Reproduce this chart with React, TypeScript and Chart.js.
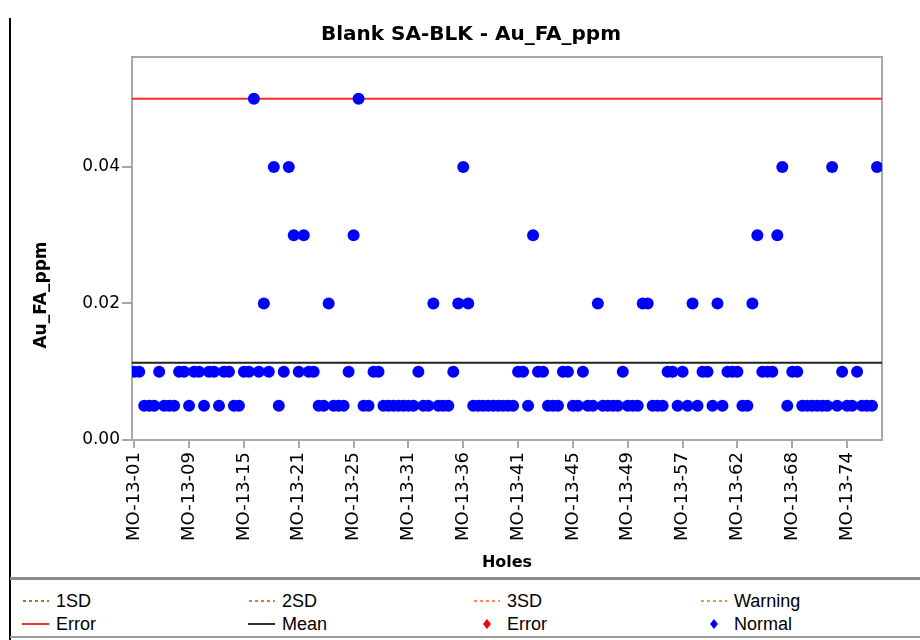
import React, { useEffect, useRef } from "react";
import { Chart, registerables } from "chart.js";

Chart.register(...registerables);

const chartTitle = "Blank SA-BLK - Au_FA_ppm";
const xTitle = "Holes";
const yTitle = "Au_FA_ppm";

// x tick labels, one every TICK_EVERY samples starting at sample 0
const tickLabels = [
  "MO-13-01", "MO-13-09", "MO-13-15", "MO-13-21", "MO-13-25", "MO-13-31", "MO-13-36",
  "MO-13-41", "MO-13-45", "MO-13-49", "MO-13-57", "MO-13-62", "MO-13-68", "MO-13-74",
];
const TICK_EVERY = 11;
const yTicks = [0, 0.02, 0.04];

// Au_FA_ppm values, one per sample, in order
const auValues = [
  0.01, 0.01, 0.005, 0.005, 0.005, 0.01, 0.005, 0.005, 0.005, 0.01,
  0.01, 0.005, 0.01, 0.01, 0.005, 0.01, 0.01, 0.005, 0.01, 0.01,
  0.005, 0.005, 0.01, 0.01, 0.05, 0.01, 0.02, 0.01, 0.04, 0.005,
  0.01, 0.04, 0.03, 0.01, 0.03, 0.01, 0.01, 0.005, 0.005, 0.02,
  0.005, 0.005, 0.005, 0.01, 0.03, 0.05, 0.005, 0.005, 0.01, 0.01,
  0.005, 0.005, 0.005, 0.005, 0.005, 0.005, 0.005, 0.01, 0.005, 0.005,
  0.02, 0.005, 0.005, 0.005, 0.01, 0.02, 0.04, 0.02, 0.005, 0.005,
  0.005, 0.005, 0.005, 0.005, 0.005, 0.005, 0.005, 0.01, 0.01, 0.005,
  0.03, 0.01, 0.01, 0.005, 0.005, 0.005, 0.01, 0.01, 0.005, 0.005,
  0.01, 0.005, 0.005, 0.02, 0.005, 0.005, 0.005, 0.005, 0.01, 0.005,
  0.005, 0.005, 0.02, 0.02, 0.005, 0.005, 0.005, 0.01, 0.01, 0.005,
  0.01, 0.005, 0.02, 0.005, 0.01, 0.01, 0.005, 0.02, 0.005, 0.01,
  0.01, 0.01, 0.005, 0.005, 0.02, 0.03, 0.01, 0.01, 0.01, 0.03,
  0.04, 0.005, 0.01, 0.01, 0.005, 0.005, 0.005, 0.005, 0.005, 0.005,
  0.04, 0.005, 0.01, 0.005, 0.005, 0.01, 0.005, 0.005, 0.005, 0.04,
];

const ERROR_LIMIT = 0.05;
const MEAN_VALUE = 0.0113;
const X_MIN = -0.45;
const X_MAX = 150;
const Y_MAX = 0.0561;

const legendRows = [
  [
    { label: "1SD", kind: "dot", color: "#7f8a2a" },
    { label: "2SD", kind: "dot", color: "#d2803a" },
    { label: "3SD", kind: "dot", color: "#ff8a4a" },
    { label: "Warning", kind: "dot", color: "#e0a030" },
  ],
  [
    { label: "Error", kind: "line", color: "#ff2a2a" },
    { label: "Mean", kind: "line", color: "#333333" },
    { label: "Error", kind: "diamond", color: "#ff0000" },
    { label: "Normal", kind: "diamond", color: "#0000ff" },
  ],
];
const legendCols = [22, 248, 473, 700];

const framePlugin = {
  id: "frame",
  beforeDatasetsDraw(chart: any) {
    const { ctx, chartArea } = chart;
    ctx.save();
    ctx.strokeStyle = "#a8a8a8";
    ctx.lineWidth = 2;
    ctx.strokeRect(chartArea.left, chartArea.top, chartArea.right - chartArea.left, chartArea.bottom - chartArea.top);
    ctx.restore();
  },
};

function LegendIcon({ kind, color }: { kind: string; color: string }) {
  if (kind === "dot") {
    return (
      <svg width="28" height="12" style={{ display: "block" }}>
        <line x1="1" y1="6" x2="27" y2="6" stroke={color} strokeWidth="2" strokeDasharray="3,3" />
      </svg>
    );
  }
  if (kind === "line") {
    return (
      <svg width="28" height="12" style={{ display: "block" }}>
        <line x1="0" y1="6" x2="27" y2="6" stroke={color} strokeWidth="2" />
      </svg>
    );
  }
  return (
    <svg width="28" height="14" style={{ display: "block" }}>
      <polygon points="14,2 18,7 14,12 10,7" fill={color} />
    </svg>
  );
}

export default function App() {
  const canvasRef = useRef<HTMLCanvasElement | null>(null);

  useEffect(() => {
    if (!canvasRef.current) return;
    const scatter = auValues.map((v, i) => ({ x: i, y: v }));
    const chart = new Chart(canvasRef.current, {
      type: "scatter",
      data: {
        datasets: [
          {
            label: "Normal",
            data: scatter,
            backgroundColor: "#0000ff",
            borderColor: "#0000ff",
            borderWidth: 0,
            pointRadius: 6,
            pointStyle: "circle",
            showLine: false,
          },
          {
            label: "Mean",
            type: "line",
            data: [{ x: X_MIN, y: MEAN_VALUE }, { x: X_MAX, y: MEAN_VALUE }],
            borderColor: "#222222",
            borderWidth: 2,
            pointRadius: 0,
            fill: false,
          },
          {
            label: "Error",
            type: "line",
            data: [{ x: X_MIN, y: ERROR_LIMIT }, { x: X_MAX, y: ERROR_LIMIT }],
            borderColor: "#ff2a2a",
            borderWidth: 2,
            pointRadius: 0,
            fill: false,
          },
        ],
      } as any,
      options: {
        animation: false,
        responsive: false,
        maintainAspectRatio: false,
        layout: { padding: { left: 60, right: 38, top: 0, bottom: 0 } },
        plugins: {
          legend: { display: false },
          tooltip: { enabled: false },
          title: {
            display: true,
            text: chartTitle,
            color: "#000",
            font: { family: "'DejaVu Sans', sans-serif", size: 20, weight: "bold" },
            padding: { top: 23, bottom: 10 },
          },
        },
        scales: {
          x: {
            type: "linear",
            min: X_MIN,
            max: X_MAX,
            afterBuildTicks: (axis: any) => {
              axis.ticks = tickLabels.map((_, i) => ({ value: i * TICK_EVERY }));
            },
            afterFit: (axis: any) => {
              axis.height = 138;
            },
            ticks: {
              autoSkip: false,
              minRotation: 90,
              maxRotation: 90,
              padding: 4,
              color: "#000",
              font: { family: "'DejaVu Sans', sans-serif", size: 18 },
              callback: (v: any) => tickLabels[Math.round(Number(v) / TICK_EVERY)] ?? "",
            },
            grid: { drawOnChartArea: false, drawTicks: true, tickLength: 8, color: "#a8a8a8", lineWidth: 2 },
            border: { display: true, color: "#a8a8a8", width: 2 },
            title: {
              display: true,
              text: xTitle,
              color: "#000",
              font: { family: "'DejaVu Sans', sans-serif", size: 16, weight: "bold" },
              padding: { top: 0, bottom: 6 },
            },
          },
          y: {
            type: "linear",
            min: 0,
            max: Y_MAX,
            afterBuildTicks: (axis: any) => {
              axis.ticks = yTicks.map((v) => ({ value: v }));
            },
            afterFit: (axis: any) => {
              axis.width = 72;
            },
            ticks: {
              padding: 2,
              color: "#000",
              font: { family: "'DejaVu Sans', sans-serif", size: 17 },
              callback: (v: any) => Number(v).toFixed(2),
            },
            grid: { drawOnChartArea: false, drawTicks: true, tickLength: 10, color: "#a8a8a8", lineWidth: 2 },
            border: { display: true, color: "#a8a8a8", width: 2 },
            title: { display: false },
          },
        },
      } as any,
      plugins: [framePlugin],
    });
    return () => chart.destroy();
  }, []);

  return (
    <div style={{ position: "absolute", left: 0, top: 0, width: 920, height: 640, background: "#fff", overflow: "hidden" }}>
      <canvas ref={canvasRef} width={920} height={578} style={{ position: "absolute", left: 0, top: 0, width: 920, height: 578 }} />
      <div
        style={{
          position: "absolute",
          left: 40,
          top: 295,
          transform: "translate(-50%, -50%) rotate(-90deg)",
          fontFamily: "'DejaVu Sans', sans-serif",
          fontWeight: "bold",
          fontSize: 17,
          color: "#000",
          whiteSpace: "nowrap",
        }}
      >
        {yTitle}
      </div>
      <div style={{ position: "absolute", left: 9, top: 18, width: 2, height: 622, background: "#000" }} />
      <div style={{ position: "absolute", left: 10, top: 577, width: 910, height: 3, background: "#8c8c8c" }} />
      <div style={{ position: "absolute", left: 10, top: 636, width: 910, height: 2, background: "#9a9a9a" }} />
      {legendRows.map((row, r) =>
        row.map((item, c) => (
          <div
            key={`${r}-${c}`}
            style={{
              position: "absolute",
              left: legendCols[c],
              top: 591 + r * 23,
              height: 20,
              display: "flex",
              alignItems: "center",
              fontFamily: "'Liberation Sans', Arial, sans-serif",
              fontSize: 18,
              color: "#000",
              whiteSpace: "nowrap",
            }}
          >
            <LegendIcon kind={item.kind} color={item.color} />
            <span style={{ marginLeft: 6 }}>{item.label}</span>
          </div>
        ))
      )}
    </div>
  );
}
